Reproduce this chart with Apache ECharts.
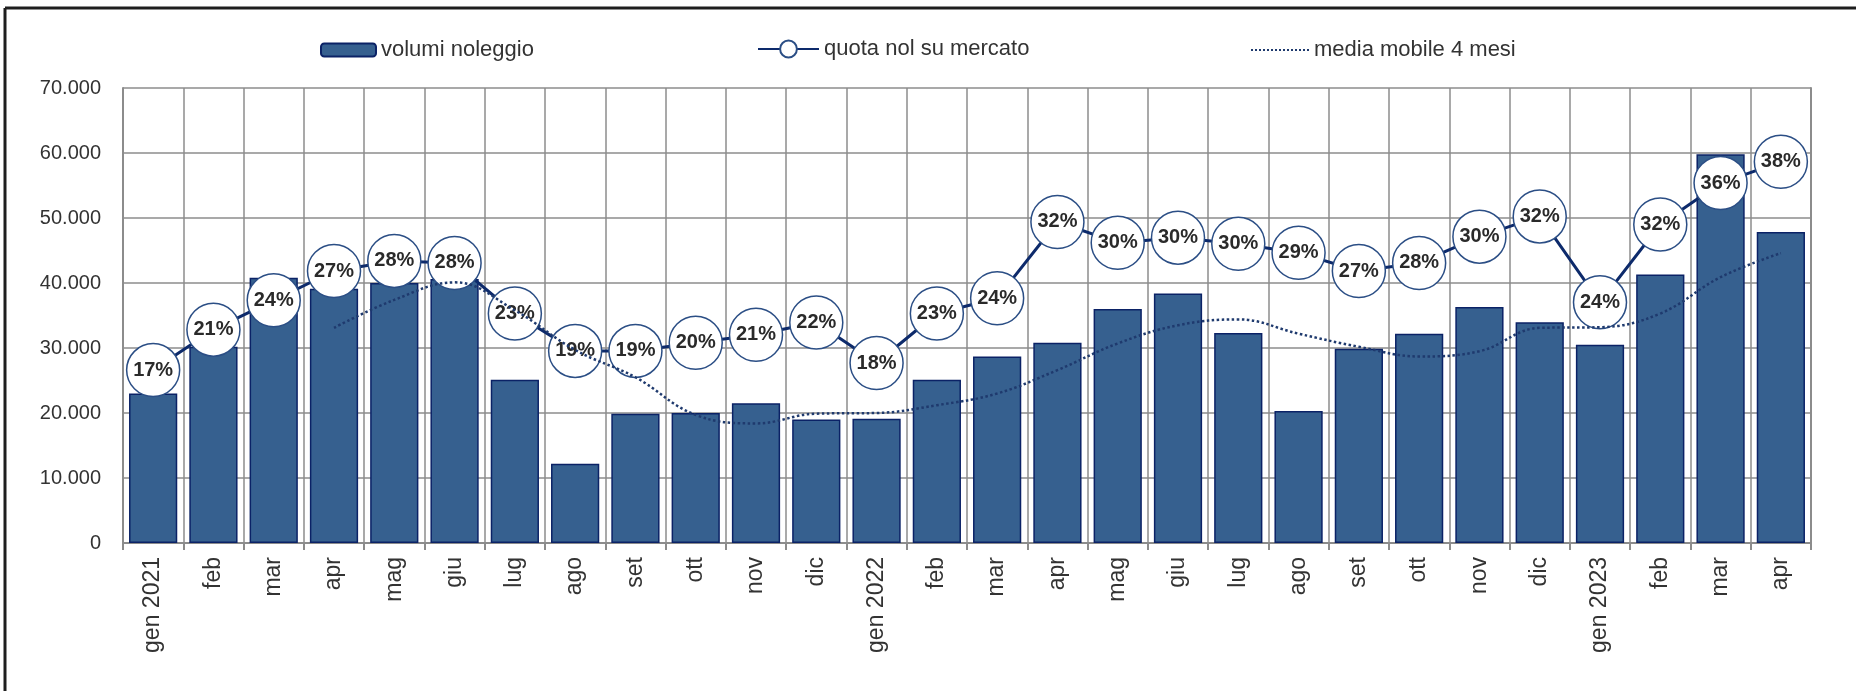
<!DOCTYPE html>
<html>
<head>
<meta charset="utf-8">
<script src="https://cdn.jsdelivr.net/npm/echarts@6/dist/echarts.min.js"></script>
<style>
  html, body { margin: 0; padding: 0; background: #fff; }
  #main { width: 1856px; height: 691px; }
</style>
</head>
<body>
<div id="main"></div>
<script>
const categories = ['gen 2021', 'feb', 'mar', 'apr', 'mag', 'giu', 'lug', 'ago', 'set', 'ott', 'nov', 'dic',
  'gen 2022', 'feb', 'mar', 'apr', 'mag', 'giu', 'lug', 'ago', 'set', 'ott', 'nov', 'dic',
  'gen 2023', 'feb', 'mar', 'apr'];

// volumi noleggio (units)
const volumi = [23000, 30200, 40800, 39100, 40000, 40600, 25100, 12200, 19900, 20000, 21500, 19000,
  19100, 25100, 28700, 30800, 36000, 38400, 32300, 20300, 29900, 32200, 36300, 33950,
  30500, 41300, 59800, 47850];

// quota nol su mercato (share)
const quota = [0.171, 0.211, 0.240, 0.269, 0.279, 0.277, 0.227, 0.190, 0.190, 0.198, 0.206, 0.218,
  0.178, 0.227, 0.242, 0.3175, 0.297, 0.302, 0.296, 0.287, 0.269, 0.277, 0.303, 0.323,
  0.238, 0.315, 0.356, 0.377];

// media mobile 4 mesi
const media = ['-', '-', '-', 33100, 37400, 40100, 35800, 29700, 25500, 19700, 18400, 19900,
  20000, 21200, 23000, 26600, 30700, 33500, 34400, 32200, 30200, 28700, 29500, 33100,
  33200, 35300, 40900, 44600];

const yTicks = { min: 0, max: 70000, interval: 10000 };

const font = 'Liberation Sans, Arial, sans-serif';
const gridColor = '#8c8c8c';
const navy = '#0d2a6b';

const chart = echarts.init(document.getElementById('main'), null, { renderer: 'canvas' });

const legendText = { fontSize: 22, color: '#333', fontFamily: font };

chart.setOption({
  backgroundColor: '#fff',
  animation: false,
  textStyle: { fontFamily: font },
  graphic: [
    { type: 'line', shape: { x1: 5, y1: 8, x2: 1856, y2: 8 }, style: { stroke: '#1e1e1e', lineWidth: 3 } },
    { type: 'line', shape: { x1: 5, y1: 8, x2: 5, y2: 691 }, style: { stroke: '#1e1e1e', lineWidth: 3 } }
  ],
  legend: [
    {
      left: 315, top: 34, data: ['volumi noleggio'],
      itemWidth: 55, itemHeight: 13, textStyle: legendText
    },
    {
      left: 752, top: 33, data: ['quota nol su mercato'],
      itemWidth: 61, itemHeight: 21, textStyle: legendText
    },
    {
      left: 1245, top: 34,
      data: [{ name: 'media mobile 4 mesi', itemStyle: { opacity: 0 } }],
      itemWidth: 58, itemHeight: 12, textStyle: legendText
    }
  ],
  grid: { left: 123, right: 45, top: 88, bottom: 148 },
  xAxis: {
    type: 'category',
    data: categories,
    boundaryGap: true,
    axisLine: { lineStyle: { color: gridColor, width: 2 } },
    axisTick: { show: true, length: 7, interval: 0, lineStyle: { color: gridColor, width: 2 } },
    splitLine: { show: true, interval: 0, lineStyle: { color: gridColor, width: 1.5 } },
    axisLabel: {
      interval: 0, rotate: 90, margin: 14,
      fontSize: 23, color: '#333', fontFamily: font
    }
  },
  yAxis: [
    {
      type: 'value',
      min: yTicks.min, max: yTicks.max, interval: yTicks.interval,
      axisLine: { show: true, lineStyle: { color: gridColor, width: 2 } },
      axisTick: { show: false },
      splitLine: { show: true, lineStyle: { color: gridColor, width: 1.5 } },
      axisLabel: {
        margin: 22, fontSize: 20, color: '#333', fontFamily: font,
        formatter: (v) => v === 0 ? '0' : (v / 1000) + '.000'
      }
    },
    {
      type: 'value',
      min: 0, max: 0.45,
      axisLine: { show: true, lineStyle: { color: gridColor, width: 2 } },
      axisTick: { show: false },
      axisLabel: { show: false },
      splitLine: { show: false }
    }
  ],
  series: [
    {
      name: 'volumi noleggio',
      type: 'bar',
      data: volumi,
      barCategoryGap: '20%',
      z: 2,
      itemStyle: { color: '#36608f', borderColor: '#0b2266', borderWidth: 1.5 }
    },
    {
      name: 'quota nol su mercato',
      type: 'line',
      yAxisIndex: 1,
      data: quota,
      z: 3,
      symbol: 'circle',
      symbolSize: 53,
      lineStyle: { color: navy, width: 3 },
      itemStyle: { color: '#fff', borderColor: '#2b4e85', borderWidth: 1.5 },
      label: {
        show: true, position: 'inside',
        fontSize: 20, fontWeight: 'bold', color: '#2a2a2a', fontFamily: font,
        formatter: (p) => Math.round(p.value * 100) + '%'
      }
    },
    {
      name: 'media mobile 4 mesi',
      type: 'line',
      data: media,
      z: 4,
      smooth: 0.4,
      symbol: 'none',
      itemStyle: { color: '#1f3a6e' },
      lineStyle: { color: '#1f3a6e', width: 2.5, type: 'dotted' }
    }
  ]
});
</script>
</body>
</html>
